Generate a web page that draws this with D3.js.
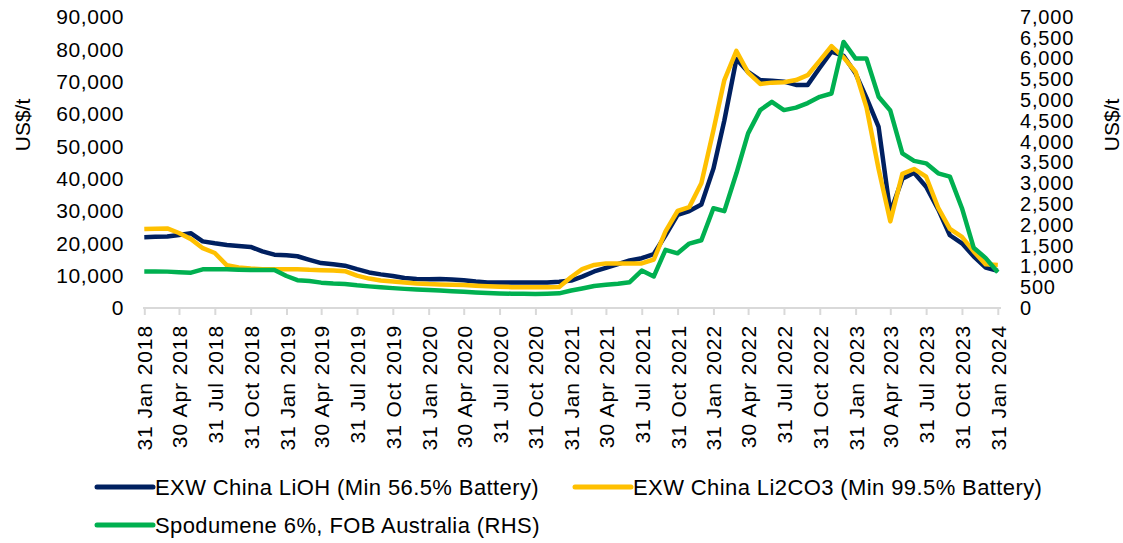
<!DOCTYPE html>
<html>
  <head>
    <meta charset="utf-8" />
    <script src="https://d3js.org/d3.v7.min.js"></script>
    <style>
        body {margin: 0; background: #fff;}
        text {font-family: "Liberation Sans", Arial, sans-serif; fill: #000;}
    </style>
  </head>
  <body>
    <svg id="viz"></svg>
    <script>
        var width = 1123, height = 543;

        // quarter-end tick labels on the x axis
        var tickLabels = ["31 Jan 2018","30 Apr 2018","31 Jul 2018","31 Oct 2018",
            "31 Jan 2019","30 Apr 2019","31 Jul 2019","31 Oct 2019",
            "31 Jan 2020","30 Apr 2020","31 Jul 2020","31 Oct 2020",
            "31 Jan 2021","30 Apr 2021","31 Jul 2021","31 Oct 2021",
            "31 Jan 2022","30 Apr 2022","31 Jul 2022","31 Oct 2022",
            "31 Jan 2023","30 Apr 2023","31 Jul 2023","31 Oct 2023","31 Jan 2024"];

        // month ends, Jan 2018 .. Jan 2024
        var months = d3.range(73).map(function(i) { return new Date(2018, i + 1, 0); });

        // US$/t, left axis
        var lioh = [21900,22000,22100,22600,23100,20600,20000,19500,19200,18900,17500,16500,
            16300,16000,14900,13900,13500,13100,12000,11000,10400,9900,9300,9000,
            8900,9000,8800,8600,8200,7900,7850,7850,7850,7850,7900,8100,
            8500,9700,11300,12400,13550,14700,15400,16700,22500,28800,30000,32000,
            43100,58000,77000,73000,70500,70300,70000,69000,69000,74300,79300,78000,
            72500,65000,56000,29500,40000,41800,37500,30500,22500,20000,16000,12500,
            11500];
        var li2co3 = [24400,24500,24600,23200,21300,18500,17000,13200,12500,12200,12000,12000,
            12000,12000,11800,11700,11600,11400,10000,9100,8500,8200,7900,7600,
            7400,7300,7200,7100,6900,6700,6550,6450,6400,6400,6400,6500,
            9600,12000,13300,13800,13800,13800,13800,15000,23700,30000,31200,38600,
            55000,70500,79500,72800,69300,69700,69800,70500,72000,76500,81000,77500,
            73000,62000,43000,26800,41500,43000,40600,31000,24500,22000,17500,13500,
            13300];
        // US$/t, right axis
        var spodumene = [880,880,875,860,850,930,930,930,920,915,915,915,
            770,670,650,610,590,577,545,520,500,478,460,445,
            433,420,405,392,375,360,350,345,340,337,345,353,
            420,470,530,560,585,620,900,760,1400,1316,1550,1630,
            2400,2330,3240,4200,4760,4960,4760,4820,4930,5080,5160,6400,
            6000,6000,5083,4750,3720,3540,3480,3240,3160,2400,1450,1200,
            860];

        var leftTicks = d3.range(0, 90001, 10000);
        var rightTicks = d3.range(0, 7001, 500);

        var series = [
            {name: "EXW China LiOH (Min 56.5% Battery)", values: lioh, axis: "left", color: "#002060"},
            {name: "EXW China Li2CO3 (Min 99.5% Battery)", values: li2co3, axis: "left", color: "#FFC000"},
            {name: "Spodumene 6%, FOB Australia (RHS)", values: spodumene, axis: "right", color: "#00B050"}
        ];

        var svg = d3.select("#viz").attr("width", width).attr("height", height);

        var parse = d3.timeParse("%d %b %Y");
        var x = d3.scaleTime()
            .domain([parse(tickLabels[0]), parse(tickLabels[tickLabels.length - 1])])
            .range([144.3, 997.8]);
        var yL = d3.scaleLinear().domain([0, 90000]).range([308, 17]);
        var yR = d3.scaleLinear().domain([0, 7000]).range([308, 17]);

        // x axis: grey line with ticks, rotated labels
        var xAxis = svg.append("g")
            .attr("transform", "translate(0,308)")
            .call(d3.axisBottom(x)
                .tickValues(tickLabels.map(parse))
                .tickSize(7)
                .tickFormat(function(d, i) { return tickLabels[i]; }));
        xAxis.select(".domain").attr("stroke", "#d9d9d9").attr("stroke-width", 2)
            .attr("d", "M143,0H1001");
        xAxis.selectAll(".tick line").attr("stroke", "#d9d9d9").attr("stroke-width", 2);
        xAxis.selectAll(".tick text")
            .attr("transform", "rotate(-90)")
            .attr("x", -17).attr("y", 0).attr("dy", "0.36em")
            .attr("text-anchor", "end")
            .style("font-size", "21px").style("letter-spacing", "0.9px");

        // left axis
        var left = svg.append("g")
            .attr("transform", "translate(124,0)")
            .call(d3.axisLeft(yL).tickValues(leftTicks).tickSize(0).tickPadding(0).tickFormat(d3.format(",")));
        left.select(".domain").remove();
        left.selectAll("text").style("font-size", "21px").style("letter-spacing", "0.6px");

        // right axis (labels sit tight, as in the source)
        var right = svg.append("g")
            .attr("transform", "translate(1020,0)")
            .call(d3.axisRight(yR).tickValues(rightTicks).tickSize(0).tickPadding(0).tickFormat(d3.format(",")));
        right.select(".domain").remove();
        right.selectAll("text").style("font-size", "20px").style("letter-spacing", "0.8px");

        svg.append("text").attr("transform", "translate(30,125) rotate(-90)")
            .attr("text-anchor", "middle").style("font-size", "21px").text("US$/t");
        svg.append("text").attr("transform", "translate(1119,125) rotate(-90)")
            .attr("text-anchor", "middle").style("font-size", "21px").text("US$/t");

        // lines
        series.forEach(function(s) {
            var y = s.axis === "left" ? yL : yR;
            var line = d3.line()
                .x(function(d, i) { return x(months[i]); })
                .y(function(d) { return y(d); });
            svg.append("path")
                .attr("d", line(s.values))
                .attr("fill", "none")
                .attr("stroke", s.color)
                .attr("stroke-width", 4.5)
                .attr("stroke-linejoin", "round");
        });

        // legend
        var legendPos = [[97, 487], [575, 487], [97, 525]];
        var legend = svg.selectAll(".legend").data(series).enter().append("g")
            .attr("transform", function(d, i) { return "translate(" + legendPos[i] + ")"; });
        legend.append("line")
            .attr("x1", 0).attr("x2", 56).attr("y1", 0).attr("y2", 0)
            .attr("stroke", function(d) { return d.color; })
            .attr("stroke-width", 5).attr("stroke-linecap", "round");
        legend.append("text")
            .attr("x", 58).attr("y", 0).attr("dy", "0.36em")
            .style("font-size", "22px").style("letter-spacing", "0.4px")
            .text(function(d) { return d.name; });
    </script>
  </body>
</html>
